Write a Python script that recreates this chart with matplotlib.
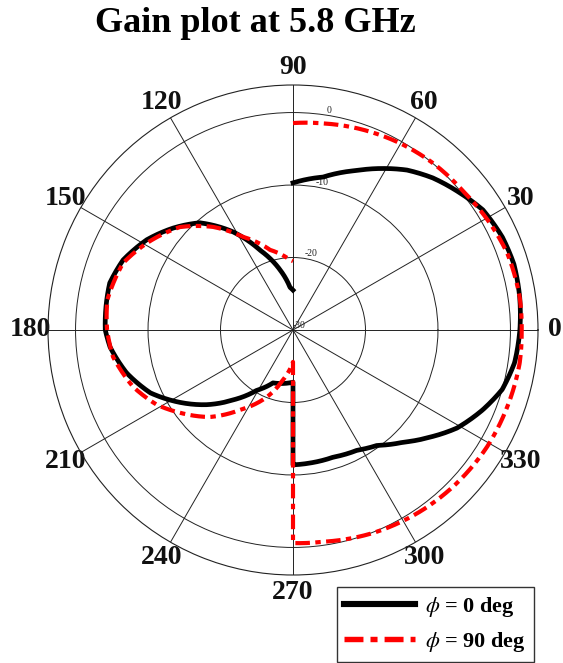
import numpy as np
import matplotlib
matplotlib.use('Agg')
import matplotlib.pyplot as plt

plt.rcParams['font.family'] = ['Liberation Serif', 'DejaVu Serif']
plt.rcParams['mathtext.fontset'] = 'stix'

title = "Gain plot at 5.8 GHz"
theta_ticks = [0, 30, 60, 90, 120, 150, 180, 210, 240, 270, 300, 330]
r_ticks = [-30, -20, -10, 0]
r_min, r_max = -30, 3.8

# phi = 0 deg cut (angle in degrees, gain in dB), traced from 90 clockwise to -270
phi0_ang = [90, 78.9, 68.2, 60.9, 54.5, 47.4, 39.4, 32.3, 23.9, 16.6, 8.2, 0,
            -8.4, -15.9, -22.8, -30.9, -38, -45.5, -53.9, -61.9, -72.5, -82.7, -90,
            -90, -110.7, -121, -130.6, -139, -148.2, -156.2, -165.5, -174.7, -180,
            -194.4, -202.4, -211.7, -220.4, -229, -238.5, -247.6, -257.8, -266, -270]
phi0_gain = [-9.7, -8.5, -6.3, -4.5, -2.9, -1.5, -0.2, 1.0, 1.6, 1.8, 1.6, 1.3,
             0.9, 0.0, -1.6, -3.65, -6.0, -8.3, -10.3, -11.2, -11.6, -11.5, -11.4,
             -22.8, -22.2, -20.3, -17.3, -14.3, -11.2, -8.5, -6.3, -4.65, -4.1,
             -3.9, -4.65, -6.3, -8.3, -10.4, -14.1, -18.1, -21.5, -24.1, -24.5]

# phi = 90 deg cut
phi90_ang = [90, 81.8, 72.4, 60.2, 50, 38.9, 28.5, 19.8, 8.3, 0,
             -8.3, -19.8, -31, -43, -54.2, -68.5, -82, -90,
             -90, -101.3, -111.2, -123.5, -133.7, -143.7, -151.1, -160.4, -171.5, -180,
             -189.2, -201.5, -210.8, -222.3, -232.2, -241.7, -254, -267.5, -270]
phi90_gain = [-1.45, -1.2, -0.8, -0.3, 0.05, 0.3, 0.9, 1.4, 1.6, 1.55,
              1.6, 1.4, 1.25, 0.94, 0.6, 0.1, -0.5, -0.6,
              -25.6, -23.0, -20.1, -16.8, -13.4, -10.7, -8.6, -6.6, -4.9, -4.35,
              -4.05, -4.8, -6.55, -8.9, -12.0, -15.4, -18.5, -20.3, -20.5]

labels = [r"$\phi$ = 0 deg", r"$\phi$ = 90 deg"]

fig = plt.figure(figsize=(5.63, 6.63), dpi=100)
ax = fig.add_axes([48/563, (333-245)/663, 490/563, 490/663], projection='polar')

l0, = ax.plot(np.deg2rad(phi0_ang), phi0_gain, color='black', lw=3.4,
              solid_joinstyle='round', label=labels[0])
l1, = ax.plot(np.deg2rad(phi90_ang), phi90_gain, color='#ff0000', lw=3.0,
              ls=(0, (3.5, 1.3, 1.3, 1.3)), label=labels[1])
# let the polar transform draw each segment as a smooth arc-like path
for ln in (l0, l1):
    ln.get_path()._interpolation_steps = 40

ax.set_ylim(r_min, r_max)
ax.set_rticks(r_ticks)
ax.set_yticklabels([str(v) for v in r_ticks], fontsize=7, color='#222222')
ax.set_rlabel_position(81)
ax.set_thetagrids(theta_ticks, [str(t) for t in theta_ticks],
                  fontsize=20, fontweight='bold', color='#111111')
ax.tick_params(axis='x', pad=2)
ax.grid(True, color='#222222', lw=0.7, ls='-')
ax.spines['polar'].set_color('#222222')
ax.spines['polar'].set_linewidth(0.8)

fig.text(255/563, 1 - 24/663, title, ha='center', va='center',
         fontsize=26, fontweight='bold')

leg = fig.legend(loc='lower right', bbox_to_anchor=(534/563, 1/663),
                 prop={'weight': 'bold', 'size': 16},
                 frameon=True, fancybox=False, edgecolor='black',
                 handlelength=3.2, handletextpad=0.45, borderpad=0.35,
                 labelspacing=0.5, borderaxespad=0.0)
leg.get_frame().set_linewidth(1.0)
for h in leg.legend_handles:
    h.set_linewidth(h.get_linewidth() * 1.3)

fig.savefig('out.png', dpi=100)
